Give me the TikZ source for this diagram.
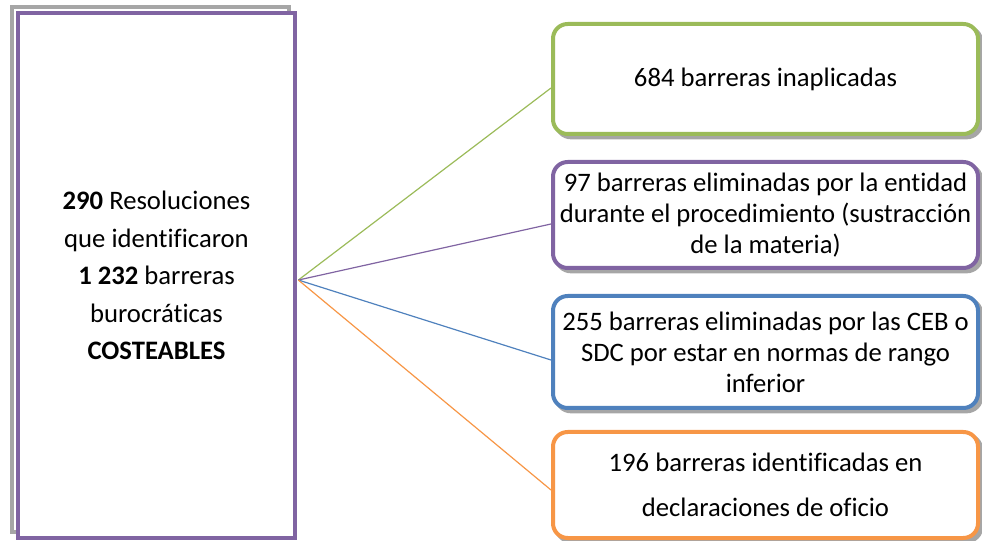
\documentclass[tikz,border=0pt]{standalone}
\usepackage{fontspec}
\setmainfont{Carlito}[Ligatures=CommonOff]
\usetikzlibrary{shadows}
\definecolor{cgreen}{HTML}{9BBB59}
\definecolor{cpurple}{HTML}{8064A2}
\definecolor{cblue}{HTML}{4F81BD}
\definecolor{corange}{HTML}{F79646}
\begin{document}
\begin{tikzpicture}[x=0.75pt,y=-0.75pt,
  rbox/.style={draw, line width=3pt, rounded corners=11pt, fill=white, align=center,
    inner sep=0pt, minimum width=318.75pt, font=\fontsize{20}{23.2}\selectfont,
    drop shadow={shadow xshift=2.5pt, shadow yshift=-2.5pt, fill=gray!70, draw=gray!70, line width=3pt, opacity=1}},
  lbox/.style={draw=cpurple, line width=3pt, fill=white, align=center, inner sep=0pt,
    minimum width=207.75pt, minimum height=393.75pt, font=\fontsize{20}{28.2}\selectfont,
    drop shadow={shadow xshift=-4.5pt, shadow yshift=4.5pt, fill=white, draw=gray!70, line width=2.5pt, opacity=1}},
  conn/.style={line width=0.9pt}]
\useasboundingbox (0,0) rectangle (982,541);
\node[lbox] (L) at (156.5,275.5) {\raisebox{-3pt}{\textbf{290} Resoluciones}\\\raisebox{-3pt}{que identificaron}\\\raisebox{-3pt}{\textbf{1 232} barreras}\\\raisebox{-3pt}{burocráticas}\\\raisebox{-3pt}{\textbf{COSTEABLES}}};
\node[rbox, draw=cgreen, minimum height=82.5pt] (G) at (765.5,79) {684 barreras inaplicadas};
\node[rbox, draw=cpurple, minimum height=79.5pt] (P) at (765.5,215) {97 barreras eliminadas por la entidad\\durante el procedimiento (sustracción\\de la materia)};
\node[rbox, draw=cblue, minimum height=84pt] (B) at (765.5,352) {255 barreras eliminadas por las CEB o\\SDC por estar en normas de rango\\inferior};
\node[rbox, draw=corange, minimum height=79.5pt] (O) at (765.5,485) {196 barreras identificadas en\\[11pt]declaraciones de oficio};
\coordinate (hub) at ([xshift=1pt,yshift=-3.4pt]L.east);
\draw[conn, cgreen] (hub) -- ([yshift=-6.75pt]G.west);
\draw[conn, cpurple] (hub) -- ([yshift=-6.75pt]P.west);
\draw[conn, cblue] (hub) -- ([yshift=-6pt]B.west);
\draw[conn, corange] (hub) -- ([yshift=-3.75pt]O.west);
\end{tikzpicture}
\end{document}
